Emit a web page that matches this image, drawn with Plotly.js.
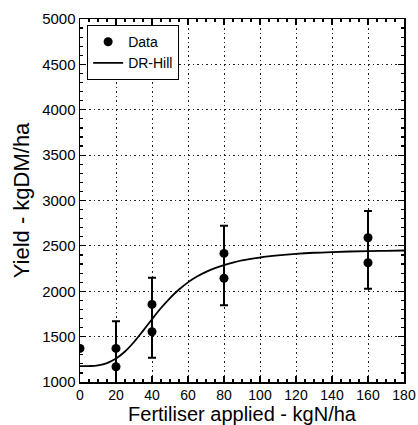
<!DOCTYPE html>
<html>
<head>
<meta charset="utf-8">
<script src="https://cdn.plot.ly/plotly-3.0.1.min.js"></script>
<style>html,body{margin:0;padding:0;background:#fff;}#chart{width:418px;height:425px;}</style>
</head>
<body>
<div id="chart"></div>
<script>
// Observed data points
var dataX = [0, 20, 20, 40, 40, 80, 80, 160, 160];
var dataY = [1370, 1370, 1168, 1855, 1554, 2417, 2142, 2589, 2314];

// Error bars (group means and half-range)
var errX = [20, 40, 80, 160];
var errMean = [1270, 1708, 2283, 2455];
var errHalf = [400, 441, 438, 428];

// DR-Hill fitted curve
var curveX = [0, 5, 10, 15, 20, 25, 30, 35, 40, 45, 50, 55, 60, 65, 70, 75, 80, 90, 100, 110, 120, 130, 140, 150, 160, 170, 180];
var curveY = [1175, 1176, 1184, 1208, 1258, 1336, 1441, 1564, 1692, 1815, 1925, 2019, 2098, 2162, 2213, 2255, 2288, 2340, 2372, 2395, 2412, 2424, 2432, 2438, 2443, 2446, 2449];

var xTickVals = [0, 20, 40, 60, 80, 100, 120, 140, 160, 180];
var yTickVals = [1000, 1500, 2000, 2500, 3000, 3500, 4000, 4500, 5000];

var FONT = 'Liberation Sans, Arial, sans-serif';

var traces = [
  {
    x: errX, y: errMean, type: 'scatter', mode: 'markers',
    marker: {size: 1, color: 'rgba(0,0,0,0)'},
    error_y: {type: 'data', array: errHalf, visible: true, color: '#000', thickness: 2, width: 4},
    showlegend: false, hoverinfo: 'skip', cliponaxis: true
  },
  {
    x: dataX, y: dataY, type: 'scatter', mode: 'markers', name: 'Data',
    marker: {size: 9, color: '#000', symbol: 'circle'},
    cliponaxis: true
  },
  {
    x: curveX, y: curveY, type: 'scatter', mode: 'lines', name: 'DR-Hill',
    line: {color: '#000', width: 1.8, shape: 'spline'}
  }
];

var axisCommon = {
  showline: true, linecolor: '#000', linewidth: 1.5, mirror: 'allticks',
  ticks: 'inside', ticklen: 6, tickwidth: 1.2, tickcolor: '#000',
  showgrid: true, gridcolor: '#222', griddash: '1.5px,3px', gridwidth: 1,
  zeroline: false
};

var layout = {
  width: 418, height: 425,
  margin: {l: 80, r: 14, t: 19, b: 43},
  paper_bgcolor: '#fff', plot_bgcolor: '#fff',
  showlegend: true,
  legend: {
    x: 0.022, y: 0.983, xanchor: 'left', yanchor: 'top',
    bgcolor: '#fff', bordercolor: '#000', borderwidth: 1,
    font: {family: FONT, size: 14, color: '#000'},
    itemwidth: 30, tracegroupgap: 0
  },
  xaxis: Object.assign({}, axisCommon, {
    range: [0, 180], tickvals: xTickVals, ticktext: xTickVals.map(String),
    tickfont: {family: FONT, size: 14, color: '#000'},
    ticklabelstandoff: 0,
    minor: {dtick: 5, ticks: 'inside', ticklen: 3, tickcolor: '#000', showgrid: false},
    title: {text: 'Fertiliser applied - kgN/ha', font: {family: FONT, size: 20, color: '#000'}, standoff: 4}
  }),
  yaxis: Object.assign({}, axisCommon, {
    range: [1000, 5000], tickvals: yTickVals, ticktext: yTickVals.map(String),
    tickfont: {family: FONT, size: 15, color: '#000'},
    minor: {dtick: 100, ticks: 'inside', ticklen: 3, tickcolor: '#000', showgrid: false},
    title: {text: 'Yield - kgDM/ha', font: {family: FONT, size: 22, color: '#000'}, standoff: 6}
  })
};

Plotly.newPlot('chart', traces, layout, {displayModeBar: false, staticPlot: true});
</script>
</body>
</html>
